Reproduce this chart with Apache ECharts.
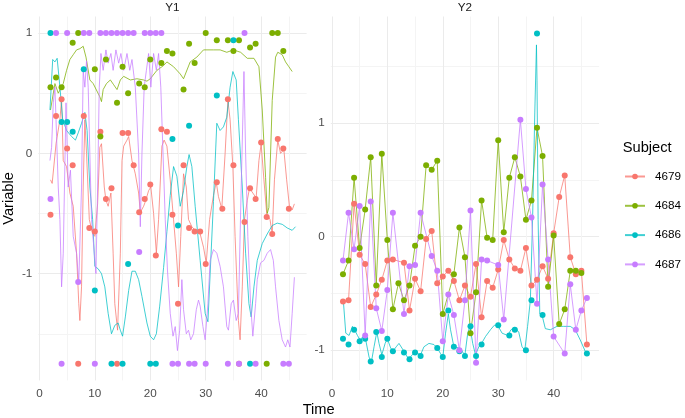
<!DOCTYPE html>
<html><head><meta charset="utf-8">
<script src="https://cdn.jsdelivr.net/npm/echarts@6/dist/echarts.min.js"></script>
<style>html,body{margin:0;padding:0;background:#fff}#c{width:685px;height:418px}</style>
</head><body><div id="c"></div>
<script>
const subjects = ['4679','4684','4686','4687'];
const colors = ['#F8766D','#7CAE00','#00BFC4','#C77CFF'];
const panelTitles = ['Y1','Y2'];
const times = [2,3,4,5,6,7,8,9,10,11,12,13,14,15,16,17,18,19,20,21,22,23,24,25,26,27,28,29,30,31,32,33,34,35,36,37,38,39,40,41,42,43,44,45,46];

// Points, panel Y1
const y1_4679 = [-0.51,0.31,0.45,0.04,-0.10,-1.75,0.31,-0.62,-0.65,0.18,-0.38,-0.29,-1.75,0.17,0.17,-0.10,-0.49,-0.38,-0.26,-0.85,0.20,0.18,-0.51,-1.25,-0.10,-0.62,-0.65,-0.65,-0.92,null,-0.24,-0.46,0.45,-0.10,-1.75,-0.57,-0.29,-0.38,0.09,-0.53,-0.67,0.12,0.04,-0.46,null];
const y1_4684 = [0.55,0.63,0.55,null,0.92,1.00,null,null,0.70,0.14,0.78,null,0.42,0.72,0.50,null,0.58,0.55,0.78,null,0.75,0.85,0.83,null,0.53,0.91,0.75,null,1.00,null,0.94,null,0.94,0.85,0.94,null,0.88,0.91,null,-1.75,1.00,1.00,0.85,null,null];
const y1_4686 = [1.00,null,0.26,0.26,0.18,null,0.70,null,-1.14,null,null,-1.75,null,-1.75,-0.92,null,null,null,-1.75,-1.75,null,null,0.12,-0.60,null,0.23,null,null,null,null,0.48,null,null,0.94,null,null,-1.75,null,null,null,null,null,null,null,null];
const y1_4687 = [-0.38,1,-1.75,1,null,-1.07,1,1,-1.75,1,1,1,1,1,1,1,-0.82,1,1,1,1,null,-1.75,-1.75,null,-1.75,-1.75,null,-1.75,null,null,null,-1.75,null,-1.75,1,null,-1.75,null,null,null,null,-1.75,-1.75,null];

// Points, panel Y2
const y2_4679 = [-0.57,-0.56,0.29,-0.16,-0.24,-0.62,-0.51,-0.38,-0.21,-0.20,null,-0.23,-0.65,-0.37,-0.48,-0.02,0.05,-0.41,-0.35,-0.30,-0.39,-0.56,-0.43,-0.53,-0.24,-0.71,-0.39,-0.45,-0.29,-0.03,-0.20,-0.28,-0.30,-0.10,-0.43,-0.38,-0.26,-0.37,0.03,0.35,0.54,-0.18,-0.33,-0.30,-0.95];
const y2_4684 = [-0.33,-0.21,0.52,-0.10,0.24,0.70,-0.43,0.73,-0.03,-0.64,-0.41,-0.56,-0.43,-0.08,0.00,0.63,0.59,0.67,-0.68,null,-0.33,0.08,-0.18,-0.85,-0.49,0.32,-0.01,-0.03,0.85,0.04,0.52,0.70,0.53,0.15,0.32,0.96,0.71,-0.44,0.01,-0.77,-0.64,-0.30,-0.30,-0.32,null];
const y2_4686 = [-0.90,-0.95,-0.82,-0.92,-0.90,-1.10,-0.84,-1.06,-0.90,-1.01,null,-1.02,-1.08,-1.02,-1.05,null,null,-0.98,-1.06,-0.65,-0.97,-1.01,-1.05,-0.79,-1.05,-0.95,null,null,-0.78,null,-0.87,-0.82,null,-1.00,-0.56,1.79,-0.69,null,null,null,null,null,null,null,-1.03];
const y2_4687 = [-0.21,0.21,-0.11,0.27,-0.87,0.31,-0.63,-0.83,-0.47,0.21,null,-0.68,-0.26,-0.25,0.21,null,-0.17,-0.30,-0.92,-0.51,-0.69,-1.00,-0.56,0.23,-1.11,-0.20,-0.21,null,-0.25,-0.73,null,null,1.03,0.42,0.17,-0.59,0.46,-0.20,-0.88,null,-1.03,-0.42,-0.82,-0.65,-0.54];

// Fine traces, panel Y1: [time, value]
const line1_4679 = [[2.0,-0.22],[2.3,-0.25],[3.0,0.08],[3.7,0.28],[4.0,0.45],[4.3,-0.06],[4.9,-0.11],[5.5,-0.33],[6.1,-0.44],[6.7,-0.83],[7.1,-1.25],[7.3,-1.39],[7.6,-1.11],[7.9,-0.28],[8.2,0.28],[8.5,0.0],[9.0,-0.55],[9.6,-0.67],[10.0,-0.69],[10.5,-0.42],[10.9,0.05],[11.2,0.08],[11.7,-0.28],[12.0,-0.39],[12.4,-0.44],[12.9,-0.33],[13.3,-0.83],[13.6,-1.25],[14.1,-1.47],[14.6,-0.83],[14.9,-0.06],[15.2,0.06],[15.8,0.11],[16.1,0.14],[16.7,-0.06],[17.3,-0.17],[17.9,-0.33],[18.2,-0.49],[18.8,-0.44],[19.2,-0.39],[19.7,-0.31],[20.1,-0.28],[20.6,-0.50],[21.1,-0.83],[21.5,-0.55],[22.1,0.06],[22.5,0.11],[23.0,0.06],[23.6,-0.22],[24.2,-0.55],[24.7,-0.83],[25.1,-1.11],[25.5,-0.69],[26.0,-0.17],[26.5,-0.28],[26.9,-0.55],[27.5,-0.61],[28.1,-0.64],[29.0,-0.67],[29.6,-0.78],[30.1,-0.91],[30.7,-0.55],[31.4,-0.35],[31.9,-0.24],[32.3,-0.36],[32.9,-0.46],[33.5,0.0],[34.0,0.44],[34.4,0.28],[34.9,-0.11],[35.3,-0.69],[35.9,-1.39],[36.2,-1.55],[36.6,-1.11],[37.0,-0.55],[37.5,-0.39],[37.9,-0.29],[38.5,-0.33],[39.1,-0.37],[39.6,-0.06],[40.0,0.08],[40.5,-0.22],[41.0,-0.50],[41.6,-0.55],[42.0,-0.67],[42.4,-0.22],[43.0,0.11],[43.5,0.0],[44.1,0.03],[44.6,-0.22],[45.1,-0.44],[45.6,-0.47],[46.0,-0.42]];
const line1_4684 = [[2.0,0.36],[2.8,0.58],[3.4,0.50],[4.3,0.58],[4.9,0.69],[5.5,0.78],[6.1,0.82],[6.7,0.86],[7.3,0.87],[7.9,0.89],[8.4,0.80],[9.1,0.61],[9.7,0.58],[10.9,0.47],[11.2,0.43],[11.5,0.53],[12.1,0.58],[12.8,0.61],[13.4,0.57],[14.0,0.53],[14.6,0.61],[15.2,0.64],[16.4,0.61],[17.6,0.62],[18.8,0.61],[19.4,0.60],[20.0,0.62],[21.2,0.69],[22.4,0.73],[23.0,0.76],[24.2,0.72],[25.4,0.66],[26.0,0.62],[27.2,0.76],[28.4,0.80],[29.6,0.86],[31.4,0.86],[32.6,0.86],[33.8,0.84],[35.0,0.86],[36.3,0.84],[37.5,0.79],[38.7,0.79],[39.6,0.72],[40.2,0.36],[40.8,-0.20],[41.1,-0.50],[41.4,-0.45],[42.0,0.44],[42.6,0.80],[43.0,0.84],[43.8,0.82],[44.4,0.76],[45.0,0.72],[45.6,0.68]];
const line1_4686 = [[1.9,0.36],[2.4,0.78],[2.8,0.76],[3.2,0.79],[3.7,0.55],[4.2,0.28],[4.9,0.19],[5.8,0.14],[6.5,0.11],[7.0,0.17],[7.6,0.25],[8.2,0.34],[8.6,0.19],[9.1,-0.28],[9.6,-0.55],[10.0,-0.94],[10.6,-0.96],[11.2,-1.0],[11.8,-1.11],[12.4,-1.33],[13.0,-1.50],[13.6,-1.43],[14.2,-1.41],[14.6,-1.47],[15.0,-1.52],[15.5,-1.36],[16.1,-1.14],[16.7,-0.98],[17.3,-0.98],[17.9,-1.05],[18.5,-1.19],[19.4,-1.41],[20.0,-1.52],[20.6,-1.55],[21.1,-1.50],[21.7,-1.27],[22.4,-0.95],[23.0,-0.65],[23.6,-0.35],[24.2,-0.11],[24.8,-0.19],[25.4,-0.44],[26.0,-0.31],[26.6,-0.11],[27.0,-0.01],[27.5,-0.11],[28.1,-0.44],[29.0,-0.89],[29.9,-1.33],[30.4,-1.40],[30.8,-1.0],[31.4,-0.40],[32.0,0.25],[32.6,0.19],[33.2,0.22],[33.8,0.30],[34.4,0.55],[34.9,0.68],[35.5,0.61],[35.9,0.28],[36.6,-0.28],[37.2,-0.83],[37.8,-1.25],[38.2,-1.36],[38.7,-1.11],[39.3,-0.89],[40.2,-0.75],[41.1,-0.67],[42.0,-0.60],[42.9,-0.58],[43.8,-0.59],[44.7,-0.62],[45.6,-0.64],[46.2,-0.61]];
const line1_4687 = [[1.9,-0.06],[2.2,0.05],[2.5,0.42],[2.8,0.55],[3.1,0.14],[3.4,-0.28],[3.7,-0.55],[4.0,-1.11],[4.3,-0.83],[4.8,0.42],[5.2,-0.28],[5.6,-0.14],[6.1,-0.69],[6.7,-0.83],[7.1,-1.07],[7.6,-0.28],[7.9,0.69],[8.2,0.55],[8.5,0.77],[8.8,0.55],[9.1,0.0],[9.4,-0.55],[9.9,-0.83],[10.2,-1.0],[10.5,-0.28],[10.8,0.55],[11.1,0.83],[11.5,0.69],[12.0,0.86],[12.4,0.75],[12.9,0.83],[13.3,0.69],[13.8,0.86],[14.3,0.75],[14.7,0.83],[15.2,0.69],[15.8,0.83],[16.3,0.69],[16.7,0.78],[17.3,0.55],[17.9,0.0],[18.2,-0.61],[18.5,0.0],[18.9,0.55],[19.3,0.69],[19.7,0.83],[20.1,0.55],[20.6,0.83],[21.1,0.69],[21.5,0.83],[21.9,0.55],[22.3,0.0],[22.7,-0.55],[23.1,-0.97],[23.6,-1.33],[24.1,-1.52],[24.5,-1.44],[24.9,-1.64],[25.3,-1.47],[25.7,-1.05],[26.0,-1.30],[26.5,-1.50],[26.9,-1.47],[27.3,-1.55],[27.8,-1.50],[28.3,-1.30],[28.7,-1.22],[29.0,-1.27],[29.5,-1.44],[29.9,-1.55],[30.4,-1.25],[30.8,-0.89],[31.4,-0.80],[32.0,-0.83],[32.6,-0.94],[33.2,-1.11],[33.8,-1.44],[34.1,-1.47],[34.6,-1.25],[35.0,-1.22],[35.5,-1.39],[35.9,-1.33],[36.4,-0.28],[36.9,0.68],[37.2,0.0],[37.6,-0.69],[38.1,-1.25],[38.5,-1.52],[39.0,-1.25],[39.3,-1.05],[39.9,-0.91],[40.5,-0.89],[41.1,-0.83],[41.7,-0.80],[42.2,-0.89],[42.6,-1.11],[43.2,-1.39],[43.8,-1.55],[44.4,-1.61],[44.8,-1.55],[45.2,-1.61],[45.6,-1.33],[46.0,-1.03]];

// Fine trace, panel Y2 (subject 4686); other Y2 traces follow their points
const line2_4686 = [[2.1,-0.59],[2.5,-0.85],[3.1,-0.87],[3.7,-0.79],[4.1,-0.82],[4.6,-0.87],[5.1,-0.91],[5.6,-0.88],[6.1,-0.91],[6.7,-1.06],[7.1,-1.11],[7.6,-0.97],[8.1,-0.84],[8.5,-0.94],[9.0,-1.04],[9.6,-0.94],[10.0,-0.90],[10.6,-0.98],[11.0,-1.01],[11.6,-0.97],[12.1,-0.94],[13.0,-1.01],[13.6,-1.06],[14.0,-1.07],[14.5,-1.04],[15.0,-1.01],[15.6,-1.03],[16.0,-1.04],[16.6,-0.97],[17.5,-0.94],[18.4,-0.95],[19.0,-0.98],[19.6,-1.03],[20.0,-1.06],[20.5,-0.85],[21.0,-0.68],[21.4,-0.82],[22.0,-0.97],[22.9,-0.98],[24.0,-1.04],[24.5,-0.85],[24.9,-0.79],[25.4,-0.94],[25.9,-1.04],[26.5,-0.97],[27.0,-0.94],[27.7,-0.88],[28.6,-0.82],[29.3,-0.78],[29.9,-0.78],[30.7,-0.85],[31.7,-0.87],[32.3,-0.82],[32.9,-0.80],[33.7,-0.84],[34.3,-0.97],[34.8,-1.0],[35.3,-0.79],[35.8,-0.56],[36.2,0.15],[36.6,1.09],[36.9,1.69],[37.0,1.38],[37.2,0.15],[37.5,-0.68],[37.9,-0.69],[38.5,-0.81],[39.4,-0.82],[40.6,-0.79],[41.8,-0.79],[43.0,-0.79],[43.9,-0.82],[44.8,-0.91],[45.7,-1.01]];

const xTickLabels = [0,10,20,30,40];
const y1TickLabels = [-1,0,1];
const y2TickLabels = [-1,0,1];

const FONT = '"Liberation Sans", Arial, sans-serif';
const MAJOR = '#EBEBEB', MINOR = '#F4F4F4';

function pts(vals){ const o=[]; times.forEach((t,i)=>{ if(vals[i]!==null) o.push([t,vals[i]]); }); return o; }

const y1Pts = [y1_4679,y1_4684,y1_4686,y1_4687];
const y2Pts = [y2_4679,y2_4684,y2_4686,y2_4687];
const y1Lines = [line1_4679,line1_4684,line1_4686,line1_4687];
const y2Lines = [pts(y2_4679),pts(y2_4684),line2_4686,pts(y2_4687)];

const series = [];
subjects.forEach((s,i)=>{
  [[y1Lines[i],0],[y2Lines[i],1]].forEach(([d,k])=>{
    series.push({type:'line', name:s, xAxisIndex:k, yAxisIndex:k, data:d,
      symbol:'circle', showSymbol:false, symbolSize:6, connectNulls:true,
      lineStyle:{color:colors[i], width:1, opacity:0.75},
      itemStyle:{color:colors[i]}, z:2, silent:true, animation:false, clip:false});
  });
});
subjects.forEach((s,i)=>{
  [[y1Pts[i],0],[y2Pts[i],1]].forEach(([v,k])=>{
    series.push({type:'scatter', name:s, xAxisIndex:k, yAxisIndex:k, data:pts(v),
      symbol:'circle', symbolSize:6, itemStyle:{color:colors[i], opacity:1},
      z:3, silent:true, animation:false, clip:false});
  });
});

function xAxis(k){
  return {type:'value', gridIndex:k, min:-0.2, max:48.2, splitNumber:10, minInterval:5, maxInterval:5,
    axisLine:{show:false}, axisTick:{show:false},
    axisLabel:{showMinLabel:false, showMaxLabel:false, margin:7, color:'#4D4D4D', fontSize:11.7, fontFamily:FONT,
      formatter:v=> xTickLabels.includes(Math.round(v*1000)/1000) ? String(Math.round(v)) : ''},
    splitLine:{show:true, showMinLine:false, showMaxLine:false, lineStyle:{color:[MAJOR,MINOR], width:1}}};
}
function yAxis(k, min, max, labels, cols, extra){
  return Object.assign({type:'value', gridIndex:k, min:min, max:max, splitNumber:6, minInterval:0.5, maxInterval:0.5,
    axisLine:{show:false}, axisTick:{show:false},
    axisLabel:{showMinLabel:false, showMaxLabel:false, margin:6, color:'#4D4D4D', fontSize:11.7, fontFamily:FONT,
      formatter:v=> labels.includes(Math.round(v*1000)/1000) ? String(Math.round(v)) : ''},
    splitLine:{show:true, showMinLine:false, showMaxLine:false, lineStyle:{color:cols, width:1}}}, extra||{});
}

const chart = echarts.init(document.getElementById('c'), null, {renderer:'canvas'});
chart.setOption({
  animation:false,
  backgroundColor:'#ffffff',
  textStyle:{fontFamily:FONT},
  title:[
    {text:panelTitles[0], left:172.45, top:1.5, textAlign:'center', padding:0, textStyle:{fontSize:11.7, fontWeight:'normal', color:'#1A1A1A', fontFamily:FONT}},
    {text:panelTitles[1], left:464.95, top:1.5, textAlign:'center', padding:0, textStyle:{fontSize:11.7, fontWeight:'normal', color:'#1A1A1A', fontFamily:FONT}},
    {text:'Time', left:318.7, top:402, textAlign:'center', padding:0, textStyle:{fontSize:14.67, fontWeight:'normal', color:'#000', fontFamily:FONT}},
    {text:'Subject', left:622.7, top:140.5, textAlign:'left', padding:0, textStyle:{fontSize:14.67, fontWeight:'normal', color:'#000', fontFamily:FONT}}
  ],
  legend:{data:subjects, orient:'vertical', left:624, top:170.5, padding:0, itemWidth:20, itemHeight:7, itemGap:17.3,
    selectedMode:false, textStyle:{fontSize:11.7, color:'#000', fontFamily:FONT, padding:[0,0,0,5]}},
  grid:[
    {left:38.3, top:16.5, width:268.3, height:363.9, containLabel:false},
    {left:330.8, top:16.5, width:268.3, height:363.9, containLabel:false}
  ],
  xAxis:[xAxis(0), xAxis(1)],
  yAxis:[
    yAxis(0, -1.8875, 1.1375, y1TickLabels, [MINOR, MAJOR], {name:'Variable', nameLocation:'middle', nameRotate:90, nameGap:22,
      nameTextStyle:{fontSize:14.67, color:'#000', fontFamily:FONT}}),
    yAxis(1, -1.266, 1.94, y2TickLabels, [MAJOR, MINOR])
  ],
  series:series
});
</script></body></html>
